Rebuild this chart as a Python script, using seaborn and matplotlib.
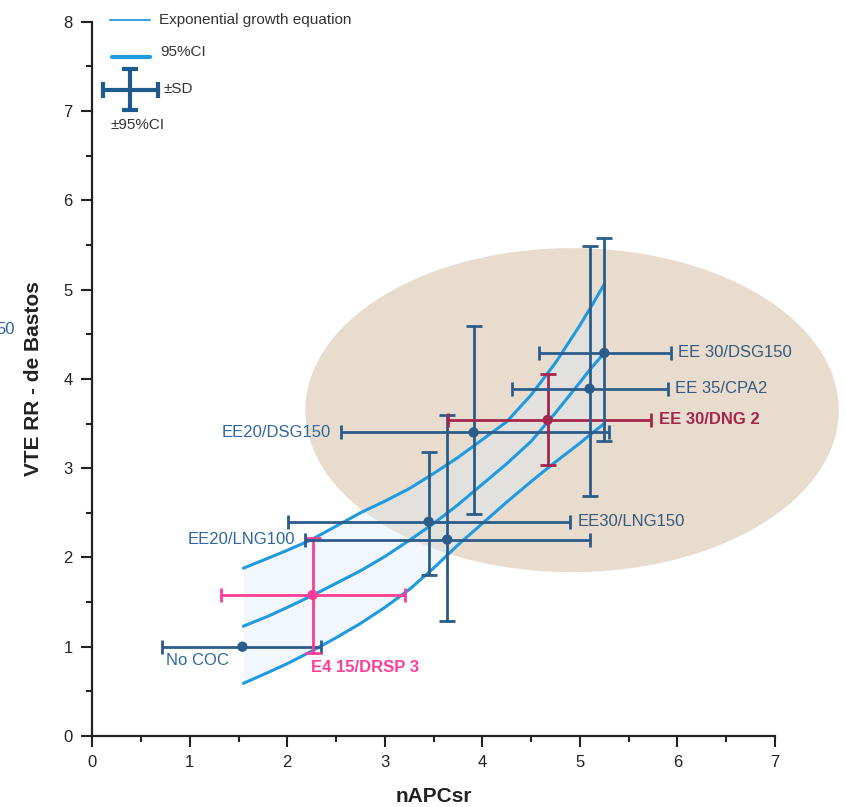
import numpy as np
import pandas as pd
import matplotlib
matplotlib.use("Agg")
import matplotlib.pyplot as plt
import seaborn as sns
from matplotlib.patches import Ellipse
from matplotlib.ticker import MultipleLocator

# -------------------------------------------------
# data
# -------------------------------------------------
labels = ['No COC', 'E4 15/DRSP 3', 'EE20/LNG100', 'EE30/LNG150',
          'EE20/DSG150', 'EE 30/DNG 2', 'EE 35/CPA2', 'EE 30/DSG150']
napc = [1.54, 2.26, 3.64, 3.45, 3.91, 4.67, 5.10, 5.25]
rr = [1.00, 1.58, 2.20, 2.40, 3.40, 3.54, 3.89, 4.29]
x_lo = [0.72, 1.32, 2.18, 2.01, 2.55, 3.65, 4.30, 4.58]
x_hi = [2.35, 3.21, 5.10, 4.90, 5.30, 5.73, 5.90, 5.93]
y_lo = [None, 0.93, 1.29, 1.80, 2.49, 3.03, 2.69, 3.30]
y_hi = [None, 2.22, 3.59, 3.18, 4.59, 4.05, 5.49, 5.58]
label_side = ['below', 'below', 'left', 'right', 'left', 'right', 'right', 'right']
groups = ['base', 'drsp', 'base', 'base', 'base', 'dng', 'base', 'base']

# exponential fit and its 95% CI band
fit_x = [1.55, 1.8, 2.0, 2.25, 2.5, 2.75, 3.0, 3.25, 3.5, 3.75, 4.0,
         4.25, 4.5, 4.75, 5.0, 5.1, 5.25]
fit_mid = [1.23, 1.34, 1.44, 1.57, 1.71, 1.85, 2.01, 2.19, 2.38, 2.59, 2.82,
           3.05, 3.30, 3.62, 3.96, 4.10, 4.29]
fit_up = [1.88, 1.99, 2.08, 2.20, 2.35, 2.50, 2.63, 2.77, 2.94, 3.12, 3.32,
          3.52, 3.82, 4.18, 4.60, 4.78, 5.06]
fit_low = [0.59, 0.71, 0.81, 0.95, 1.10, 1.26, 1.44, 1.64, 1.88, 2.14, 2.38,
           2.62, 2.85, 3.07, 3.28, 3.37, 3.50]

# shaded cluster ellipse
ell_center = (4.92, 3.65)
ell_w, ell_h = 5.47, 3.63

# -------------------------------------------------
# style
# -------------------------------------------------
sns.set_style("ticks")
plt.rcParams['font.family'] = ['Liberation Sans', 'DejaVu Sans']

dark = '#2b5c8a'
curve = '#1f9ae0'
palette = {'base': dark, 'drsp': '#ff3d98', 'dng': '#a5264d'}
txt_left = '#2d66a0'
txt_right = '#35587c'

fig = plt.figure(figsize=(8.46, 8.07), dpi=100)
ax = fig.add_axes([0.109, 0.088, 0.807, 0.885])

# ellipse background
ax.add_patch(Ellipse(ell_center, ell_w, ell_h, facecolor='#e7dccd',
                     edgecolor='none', zorder=0, clip_on=False))

# CI band + curves
ax.fill_between(fit_x, fit_low, fit_up, color='#dbeafa', alpha=0.38,
                lw=0, zorder=1)
curves = pd.DataFrame({'x': fit_x * 3,
                       'y': fit_up + fit_mid + fit_low,
                       'c': ['up'] * len(fit_x) + ['mid'] * len(fit_x) + ['low'] * len(fit_x)})
sns.lineplot(data=curves, x='x', y='y', units='c', estimator=None, sort=False,
             color=curve, lw=2.2, ax=ax, zorder=2)

# error bars
for i in range(len(labels)):
    col = palette[groups[i]]
    ax.errorbar(napc[i], rr[i], xerr=[[napc[i] - x_lo[i]], [x_hi[i] - napc[i]]],
                fmt='none', ecolor=col, elinewidth=2, capsize=5, capthick=2,
                zorder=3)
    if y_lo[i] is not None:
        ax.errorbar(napc[i], rr[i], yerr=[[rr[i] - y_lo[i]], [y_hi[i] - rr[i]]],
                    fmt='none', ecolor=col, elinewidth=2, capsize=6, capthick=2,
                    zorder=3)

pts = pd.DataFrame({'x': napc, 'y': rr, 'g': groups})
sns.scatterplot(data=pts, x='x', y='y', hue='g', palette=palette, s=55,
                edgecolor='none', legend=False, ax=ax, zorder=4)

# point labels
for i, lab in enumerate(labels):
    col = palette[groups[i]]
    if groups[i] == 'base':
        col = txt_right if label_side[i] == 'right' else txt_left
    weight = 'bold' if groups[i] != 'base' else 'normal'
    if label_side[i] == 'right':
        ax.text(x_hi[i] + 0.08, rr[i], lab, ha='left', va='center',
                fontsize=12, color=col, weight=weight)
    elif label_side[i] == 'left':
        ax.text(x_lo[i] - 0.1, rr[i], lab, ha='right', va='center',
                fontsize=12, color=col, weight=weight)
    else:
        xx = x_lo[i] + 0.04 if y_lo[i] is None else napc[i] - 0.02
        yy = rr[i] - 0.07 if y_lo[i] is None else y_lo[i] - 0.08
        ax.text(xx, yy, lab, ha='left', va='top', fontsize=12, color=col,
                weight=weight)

# key in the upper left corner
ax.plot([0.18, 0.59], [8.02, 8.02], color=curve, lw=1.3, clip_on=False)
ax.text(0.68, 8.02, 'Exponential growth equation', fontsize=11,
        color='#333333', va='center')
ax.plot([0.2, 0.59], [7.6, 7.6], color=curve, lw=3, clip_on=False)
ax.text(0.70, 7.66, '95%CI', fontsize=11, color='#333333', va='center')
ax.errorbar(0.39, 7.24, xerr=0.28, yerr=0.23, fmt='none', ecolor='#1f5a8f',
            elinewidth=3, capsize=6, capthick=3)
ax.text(0.73, 7.25, '±SD', fontsize=11, color='#333333', va='center')
ax.text(0.19, 6.92, '±95%CI', fontsize=11, color='#333333', va='top')

# axes
ax.set_xlim(0, 7)
ax.set_ylim(0, 8)
ax.xaxis.set_major_locator(MultipleLocator(1))
ax.xaxis.set_minor_locator(MultipleLocator(0.5))
ax.yaxis.set_major_locator(MultipleLocator(1))
ax.yaxis.set_minor_locator(MultipleLocator(0.5))
ax.tick_params(which='major', length=8, width=1.5, labelsize=12,
               colors='#222222', pad=6)
ax.tick_params(which='minor', length=4, width=1.5, colors='#222222')
for s in ['left', 'bottom']:
    ax.spines[s].set_linewidth(1.6)
    ax.spines[s].set_color('#222222')
sns.despine(ax=ax)
ax.set_xlabel('nAPCsr', fontsize=15, weight='bold', color='#222222', labelpad=12)
ax.set_ylabel('VTE RR - de Bastos', fontsize=15, weight='bold', color='#222222',
              labelpad=15)

# clipped remnant label at the left border
fig.text(-0.004, 1 - 330 / 807, '50', fontsize=12, color=txt_left,
         va='center', ha='left')

fig.savefig('out.png', dpi=100)
